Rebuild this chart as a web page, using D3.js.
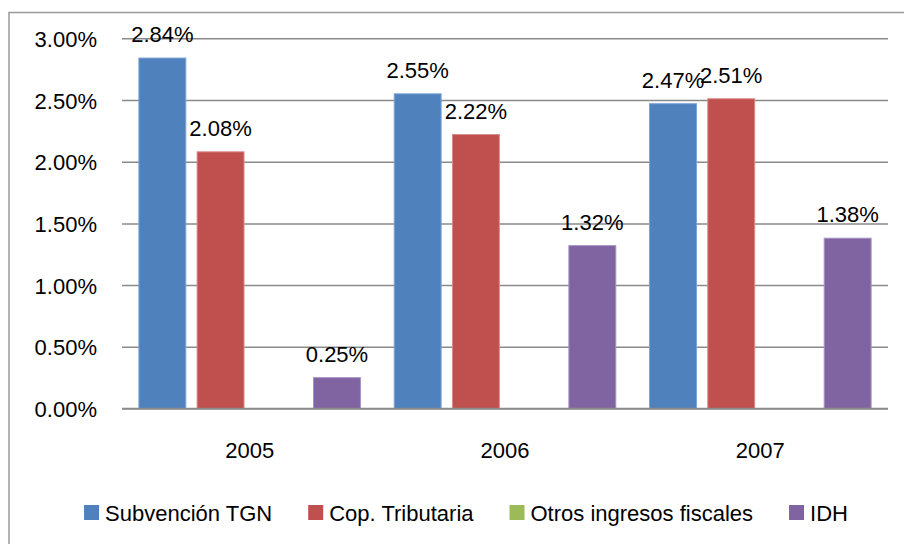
<!DOCTYPE html>
<html>
<head>
<meta charset="utf-8">
<script src="https://cdn.jsdelivr.net/npm/d3@7"></script>
<style>
  html, body { margin: 0; padding: 0; background: #fff; }
  svg { display: block; }
  text { font-family: "Liberation Sans", Arial, sans-serif; fill: #000; }
</style>
</head>
<body>
<svg id="chart" width="904" height="544"></svg>
<script>
const years = ["2005", "2006", "2007"];
const seriesNames = ["Subvención TGN", "Cop. Tributaria", "Otros ingresos fiscales", "IDH"];
const subvencionTGN = [2.84, 2.55, 2.47];
const copTributaria = [2.08, 2.22, 2.51];
const otrosIngresos = [0, 0, 0];
const idh = [0.25, 1.32, 1.38];
const yTicks = [0, 0.5, 1.0, 1.5, 2.0, 2.5, 3.0];
const seriesColors = ["#4F81BD", "#C0504D", "#9BBB59", "#8064A2"];
const seriesEdges = ["#7da3d6", "#d98c8a", "#bcd48c", "#a592c4"];

const seriesValues = [subvencionTGN, copTributaria, otrosIngresos, idh];
const data = years.map((yr, i) => ({
  year: yr,
  values: seriesNames.map((s, j) => ({ key: s, idx: j, value: seriesValues[j][i] }))
}));

const svg = d3.select("#chart");
const FS = 22;

// outer border
svg.append("path")
  .attr("d", "M9,544 L9,12.5 L904,12.5")
  .attr("fill", "none").attr("stroke", "#9a9a9a").attr("stroke-width", 1.5);

const x0 = d3.scaleBand().domain(years).range([122, 888]).padding(0);
const x1 = d3.scaleBand().domain(seriesNames).range([0, x0.bandwidth()])
  .paddingInner(0.194).paddingOuter(0.29);
const y = d3.scaleLinear().domain([0, 3]).range([408.5, 38.3]);

// gridlines
const yAxis = d3.axisLeft(y).tickValues(yTicks).tickSize(-(888 - 122)).tickFormat(d => d3.format(".2f")(d) + "%");
const gAxis = svg.append("g").attr("transform", "translate(122,0)").call(yAxis);
gAxis.select(".domain").remove();
gAxis.selectAll(".tick line").attr("stroke", "#8a8a8a").attr("stroke-width", 1.5);
gAxis.selectAll(".tick text")
  .attr("x", -25).attr("dy", null).attr("y", 8)
  .attr("text-anchor", "end")
  .style("font-size", FS + "px")
  .style("font-family", "'Liberation Sans', Arial, sans-serif")
  .attr("fill", "#000");

// bars
const groups = svg.append("g").selectAll("g").data(data).join("g")
  .attr("transform", d => `translate(${x0(d.year)},0)`);

groups.selectAll("rect").data(d => d.values.filter(v => v.value > 0)).join("rect")
  .attr("x", d => x1(d.key))
  .attr("y", d => y(d.value))
  .attr("width", x1.bandwidth())
  .attr("height", d => y(0) - y(d.value))
  .attr("fill", d => seriesColors[d.idx])
  .attr("stroke", d => seriesEdges[d.idx])
  .attr("stroke-width", 1);

// baseline redraw on top
svg.append("line").attr("x1", 122).attr("x2", 888).attr("y1", y(0)).attr("y2", y(0))
  .attr("stroke", "#8a8a8a").attr("stroke-width", 1.5);

// value labels
groups.selectAll("text.val").data(d => d.values.filter(v => v.value > 0)).join("text")
  .attr("class", "val")
  .attr("x", d => x1(d.key) + x1.bandwidth() / 2)
  .attr("y", d => y(d.value) - 16)
  .attr("text-anchor", "middle")
  .style("font-size", FS + "px")
  .text(d => d3.format(".2f")(d.value) + "%");

// x category labels
const xAxis = d3.axisBottom(x0).tickSize(0).tickPadding(0);
const gx = svg.append("g").attr("transform", `translate(0,${y(0)})`).call(xAxis);
gx.select(".domain").remove();
gx.selectAll(".tick text").attr("y", 49.5).attr("dy", null)
  .style("font-size", FS + "px")
  .style("font-family", "'Liberation Sans', Arial, sans-serif")
  .attr("fill", "#000");

// legend
const legend = svg.append("g");
let lx = 0;
seriesNames.forEach((s, i) => {
  const g = legend.append("g").attr("transform", `translate(${lx},0)`);
  g.append("rect").attr("x", 0).attr("y", 505).attr("width", 15).attr("height", 15)
    .attr("fill", seriesColors[i]);
  const t = g.append("text").attr("x", 21).attr("y", 521).style("font-size", FS + "px").text(s);
  lx += 21 + t.node().getComputedTextLength() + 36;
});
const totalW = lx - 36;
legend.attr("transform", `translate(${466 - totalW / 2},0)`);
</script>
</body>
</html>
